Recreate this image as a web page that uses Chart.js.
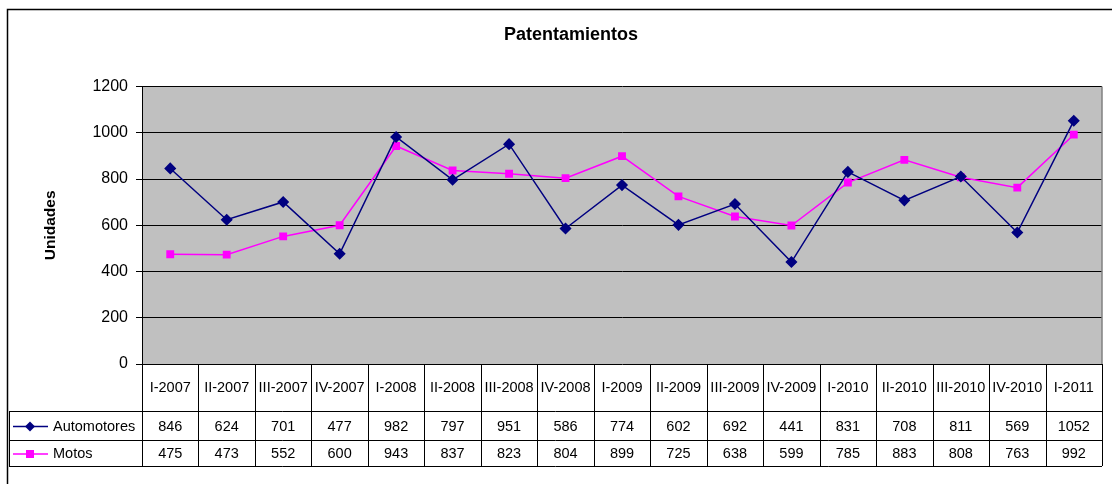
<!DOCTYPE html>
<html>
<head>
<meta charset="utf-8">
<script src="https://cdn.jsdelivr.net/npm/chart.js@4/dist/chart.umd.min.js"></script>
<style>
  html, body { margin: 0; padding: 0; background: #fff; }
  #wrap { width: 1112px; height: 484px; }
</style>
</head>
<body>
<div id="wrap"><canvas id="c" width="1112" height="484"></canvas></div>
<script>
// datos
const categories = ["I-2007", "II-2007", "III-2007", "IV-2007", "I-2008", "II-2008", "III-2008", "IV-2008",
  "I-2009", "II-2009", "III-2009", "IV-2009", "I-2010", "II-2010", "III-2010", "IV-2010", "I-2011"];
const automotores = [846, 624, 701, 477, 982, 797, 951, 586, 774, 602, 692, 441, 831, 708, 811, 569, 1052];
const motos = [475, 473, 552, 600, 943, 837, 823, 804, 899, 725, 638, 599, 785, 883, 808, 763, 992];
const seriesNames = ["Automotores", "Motos"];
const yTicks = [0, 200, 400, 600, 800, 1000, 1200];

const NAVY = "#000080";
const MAGENTA = "#FF00FF";
const FONT = "Liberation Sans, Arial, sans-serif";

// fondo gris del área de trazado + marco exterior
const plotBg = {
  id: "plotBg",
  beforeDraw(chart) {
    const { ctx, chartArea: a } = chart;
    ctx.save();
    ctx.fillStyle = "#C0C0C0";
    ctx.fillRect(a.left, a.top, a.right - a.left, a.bottom - a.top);
    ctx.strokeStyle = "#000";
    ctx.lineWidth = 1.5;
    ctx.beginPath();
    ctx.moveTo(7.5, 484);
    ctx.lineTo(7.5, 9.5);
    ctx.lineTo(1112, 9.5);
    ctx.stroke();
    ctx.restore();
  },
  afterDatasetsDraw(chart) {
    const { ctx, chartArea: a } = chart;
    ctx.save();
    ctx.strokeStyle = "#808080";
    ctx.lineWidth = 1.5;
    ctx.beginPath();
    ctx.moveTo(a.right, a.top);
    ctx.lineTo(a.right, a.bottom);
    ctx.stroke();
    ctx.restore();
  }
};

// tabla de datos debajo del gráfico
const dataTable = {
  id: "dataTable",
  afterDraw(chart) {
    const { ctx, chartArea: a } = chart;
    const x = chart.scales.x;
    const n = categories.length;
    const colW = (a.right - a.left) / n;
    const top = a.bottom;
    const r1 = 411, r2 = 440, bot = 466;
    const leftEdge = 9;

    ctx.save();
    ctx.strokeStyle = "#000";
    ctx.lineWidth = 1;
    ctx.beginPath();
    // verticales
    for (let i = 0; i <= n; i++) {
      const xx = Math.round(a.left + i * colW) + 0.5;
      ctx.moveTo(xx, top);
      ctx.lineTo(xx, bot);
    }
    ctx.moveTo(leftEdge + 0.5, r1);
    ctx.lineTo(leftEdge + 0.5, bot);
    // horizontales
    ctx.moveTo(leftEdge, r1 + 0.5); ctx.lineTo(a.right, r1 + 0.5);
    ctx.moveTo(leftEdge, r2 + 0.5); ctx.lineTo(a.right, r2 + 0.5);
    ctx.moveTo(leftEdge, bot + 0.5); ctx.lineTo(a.right, bot + 0.5);
    ctx.stroke();

    ctx.fillStyle = "#000";
    ctx.textAlign = "center";
    ctx.textBaseline = "middle";
    ctx.font = "14.5px " + FONT;
    categories.forEach((c, i) => {
      const cx = x.getPixelForValue(i);
      ctx.fillText(c, cx, (top + r1) / 2);
      ctx.fillText(String(automotores[i]), cx, (r1 + r2) / 2 + 1);
      ctx.fillText(String(motos[i]), cx, (r2 + bot) / 2 + 1);
    });

    // leyenda en la tabla
    const rows = [(r1 + r2) / 2 + 1, (r2 + bot) / 2 + 1];
    const colors = [NAVY, MAGENTA];
    rows.forEach((ry, k) => {
      ctx.strokeStyle = colors[k];
      ctx.lineWidth = 1.5;
      ctx.beginPath();
      ctx.moveTo(13, ry);
      ctx.lineTo(48, ry);
      ctx.stroke();
      ctx.fillStyle = colors[k];
      if (k === 0) {
        ctx.beginPath();
        ctx.moveTo(30, ry - 5); ctx.lineTo(35, ry); ctx.lineTo(30, ry + 5); ctx.lineTo(25, ry);
        ctx.closePath();
        ctx.fill();
      } else {
        ctx.fillRect(26, ry - 4, 8, 8);
      }
      ctx.fillStyle = "#000";
      ctx.textAlign = "left";
      ctx.fillText(seriesNames[k], 53, ry);
    });
    ctx.restore();
  }
};

new Chart(document.getElementById("c"), {
  type: "line",
  data: {
    labels: categories,
    datasets: [
      {
        label: seriesNames[0], data: automotores,
        borderColor: NAVY, backgroundColor: NAVY, borderWidth: 1.5,
        pointStyle: "rectRot", pointRadius: 5, pointHoverRadius: 5, tension: 0
      },
      {
        label: seriesNames[1], data: motos,
        borderColor: MAGENTA, backgroundColor: MAGENTA, borderWidth: 1.5,
        pointStyle: "rect", pointRadius: 4.5, pointHoverRadius: 4.5, tension: 0
      }
    ]
  },
  options: {
    responsive: false,
    animation: false,
    layout: { padding: { left: 40, right: 10, top: 0, bottom: 120 } },
    plugins: {
      legend: { display: false },
      tooltip: { enabled: false },
      title: {
        display: true, text: "Patentamientos", color: "#000",
        font: { family: FONT, size: 18, weight: "bold" },
        padding: { top: 24, bottom: 41 }
      }
    },
    scales: {
      x: {
        offset: true,
        display: false,
        grid: { display: false }
      },
      y: {
        min: 0, max: 1200,
        afterBuildTicks(scale) { scale.ticks = yTicks.map(v => ({ value: v })); },
        afterFit(scale) { scale.width = 102; },
        ticks: {
          color: "#000", padding: 8, font: { family: FONT, size: 16 },
          callback: v => String(v)
        },
        grid: { color: "#000", lineWidth: 1, tickLength: 6, drawTicks: true },
        border: { color: "#000", width: 1 },
        title: {
          display: true, text: "Unidades", color: "#000",
          font: { family: FONT, size: 15.5, weight: "bold" },
          padding: { top: 1, bottom: 0 }
        }
      }
    }
  },
  plugins: [plotBg, dataTable]
});
</script>
</body>
</html>
